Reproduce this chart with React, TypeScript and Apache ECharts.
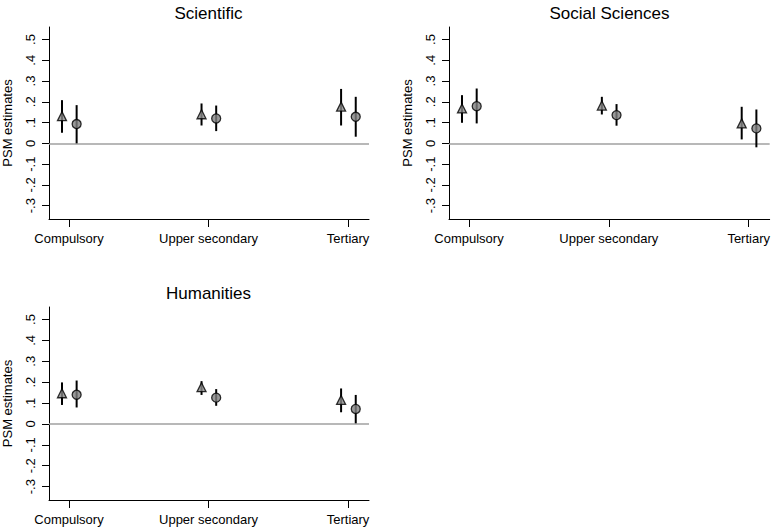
import React, { useEffect, useRef } from "react";
import * as echarts from "echarts";

const categories = ["Compulsory", "Upper secondary", "Tertiary"];
const yTicks = [-0.3, -0.2, -0.1, 0, 0.1, 0.2, 0.3, 0.4, 0.5];
const xTicks = [1, 2, 3];

// Scientific
const sciTri = [0.131, 0.14, 0.177];
const sciTriLo = [0.051, 0.086, 0.086];
const sciTriHi = [0.208, 0.192, 0.262];
const sciCir = [0.093, 0.12, 0.128];
const sciCirLo = [0.0, 0.059, 0.032];
const sciCirHi = [0.184, 0.182, 0.224];

// Social Sciences
const socTri = [0.168, 0.182, 0.096];
const socTriLo = [0.099, 0.139, 0.019];
const socTriHi = [0.232, 0.224, 0.176];
const socCir = [0.179, 0.136, 0.072];
const socCirLo = [0.096, 0.085, -0.019];
const socCirHi = [0.264, 0.189, 0.163];

// Humanities
const humTri = [0.147, 0.176, 0.115];
const humTriLo = [0.091, 0.139, 0.056];
const humTriHi = [0.199, 0.205, 0.17];
const humCir = [0.14, 0.126, 0.072];
const humCirLo = [0.079, 0.087, 0.003];
const humCirHi = [0.208, 0.167, 0.139];

const panels = [
  { title: "Scientific", tri: sciTri, triLo: sciTriLo, triHi: sciTriHi, cir: sciCir, cirLo: sciCirLo, cirHi: sciCirHi },
  { title: "Social Sciences", tri: socTri, triLo: socTriLo, triHi: socTriHi, cir: socCir, cirLo: socCirLo, cirHi: socCirHi },
  { title: "Humanities", tri: humTri, triLo: humTriLo, triHi: humTriHi, cir: humCir, cirLo: humCirLo, cirHi: humCirHi },
];

const gridPos = [
  { left: 48, top: 27, width: 321, height: 192 },
  { left: 449, top: 27, width: 321, height: 192 },
  { left: 48, top: 307, width: 321, height: 193 },
];

const FONT = "Liberation Sans, Arial, sans-serif";
const TRI_OFF = -0.05;
const CIR_OFF = 0.055;

function fmtY(v: number) {
  if (Math.abs(v) < 1e-9) return "0";
  const s = Math.abs(v).toFixed(1).replace(/^0/, "");
  return (v < 0 ? "-" : "") + s;
}

export default function App() {
  const ref = useRef<HTMLDivElement>(null);
  useEffect(() => {
    if (!ref.current) return;
    const chart = echarts.init(ref.current, undefined, { renderer: "svg" });
    const grids: any[] = [];
    const xAxes: any[] = [];
    const yAxes: any[] = [];
    const series: any[] = [];
    const graphics: any[] = [];

    panels.forEach((p, i) => {
      const g = gridPos[i];
      grids.push({ ...g, containLabel: false });
      xAxes.push({
        type: "value",
        gridIndex: i,
        min: 0.857,
        max: 3.15,
        axisLine: { show: true, onZero: false, lineStyle: { color: "#000", width: 1 } },
        axisTick: { show: true, customValues: xTicks, length: 8, lineStyle: { color: "#000", width: 1 } },
        axisLabel: {
          customValues: xTicks,
          formatter: (v: number) => categories[Math.round(v) - 1] ?? "",
          fontSize: 13,
          fontFamily: FONT,
          color: "#000",
          margin: 13,
        },
        splitLine: { show: false },
      });
      yAxes.push({
        type: "value",
        gridIndex: i,
        min: -0.364,
        max: 0.56,
        name: "PSM estimates",
        nameLocation: "middle",
        nameRotate: 90,
        nameGap: 35,
        nameTextStyle: { fontSize: 13, fontFamily: FONT, color: "#000" },
        axisLine: { show: true, onZero: false, lineStyle: { color: "#000", width: 1 } },
        axisTick: { show: true, customValues: yTicks, length: 7, lineStyle: { color: "#000", width: 1 } },
        axisLabel: {
          customValues: yTicks,
          formatter: fmtY,
          rotate: 90,
          fontSize: 13,
          fontFamily: FONT,
          color: "#000",
          margin: 12,
        },
        splitLine: { show: false },
      });

      const triBars = p.tri.map((_, k) => [k + 1 + TRI_OFF, p.triLo[k], p.triHi[k]]);
      const cirBars = p.cir.map((_, k) => [k + 1 + CIR_OFF, p.cirLo[k], p.cirHi[k]]);
      const renderBar = (params: any, api: any) => {
        const x = api.value(0);
        const a = api.coord([x, api.value(1)]);
        const b = api.coord([x, api.value(2)]);
        return {
          type: "line",
          shape: { x1: a[0], y1: a[1], x2: b[0], y2: b[1] },
          style: { stroke: "#000", lineWidth: 2 },
        };
      };
      series.push({
        type: "custom",
        xAxisIndex: i,
        yAxisIndex: i,
        renderItem: renderBar,
        data: [...triBars, ...cirBars],
        encode: { x: 0, y: [1, 2] },
        z: 2,
        silent: true,
      });
      series.push({
        type: "scatter",
        xAxisIndex: i,
        yAxisIndex: i,
        symbol: "triangle",
        symbolSize: 9,
        itemStyle: { color: "#8a8a8a", borderColor: "#000", borderWidth: 1.3 },
        data: p.tri.map((v, k) => [k + 1 + TRI_OFF, v]),
        z: 3,
        markLine: {
          silent: true,
          symbol: ["none", "none"],
          label: { show: false },
          lineStyle: { color: "#a0a0a0", width: 1.5, type: "solid" },
          data: [{ yAxis: 0 }],
          z: 1,
        },
      });
      series.push({
        type: "scatter",
        xAxisIndex: i,
        yAxisIndex: i,
        symbol: "circle",
        symbolSize: 9,
        itemStyle: { color: "#808080", borderColor: "#000", borderWidth: 1.3 },
        data: p.cir.map((v, k) => [k + 1 + CIR_OFF, v]),
        z: 3,
      });

      graphics.push({
        type: "text",
        x: g.left + g.width / 2,
        y: g.top - 14,
        style: {
          text: p.title,
          fontSize: 17,
          fontFamily: FONT,
          fill: "#000",
          textAlign: "center",
          textVerticalAlign: "middle",
        },
      });
    });

    chart.setOption({
      animation: false,
      backgroundColor: "#fff",
      grid: grids,
      xAxis: xAxes,
      yAxis: yAxes,
      series,
      graphic: graphics,
    });
    return () => chart.dispose();
  }, []);
  return (
    <div
      ref={ref}
      style={{ position: "absolute", left: 0, top: 0, width: 773, height: 530 }}
    />
  );
}
